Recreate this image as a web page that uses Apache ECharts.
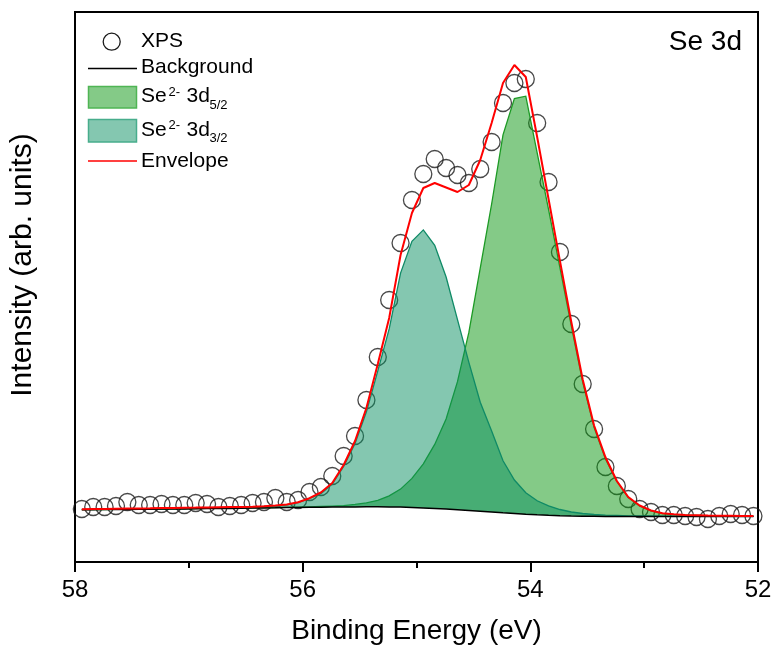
<!DOCTYPE html>
<html>
<head>
<meta charset="utf-8">
<script src="https://cdn.jsdelivr.net/npm/echarts@6/dist/echarts.min.js"></script>
<style>
html,body{margin:0;padding:0;background:#fff;}
#chart{width:775px;height:650px;}
</style>
</head>
<body>
<div id="chart"></div>
<script>
// Binding energy grid (eV)
var energy = [57.94,57.84,57.74,57.64,57.54,57.44,57.34,57.24,57.14,57.04,
  56.94,56.84,56.74,56.64,56.54,56.44,56.34,56.24,56.14,56.04,
  55.94,55.84,55.74,55.64,55.54,55.44,55.34,55.24,55.14,55.04,
  54.94,54.84,54.74,54.64,54.54,54.44,54.34,54.24,54.14,54.04,
  53.94,53.84,53.74,53.64,53.54,53.44,53.34,53.24,53.14,53.04,
  52.94,52.84,52.74,52.64,52.54,52.44,52.34,52.24,52.14,52.04];
// Measured XPS intensity (arb. units)
var xps = [530,550,550,560,600,570,570,580,570,570,
  590,580,550,560,570,590,600,640,600,620,
  700,750,860,1060,1260,1620,2050,2620,3190,3620,
  3880,4030,3940,3870,3790,3930,4200,4590,4790,4830,
  4390,3800,3100,2380,1780,1330,950,760,630,530,
  500,470,470,460,450,430,460,480,470,460];
// Shirley-type background
var background = [522,523,524,525,526,527,528,529,530,531,
  532,534,535,536,538,539,541,542,544,545,
  547,548,549,550,551,552,552,551,549,546,
  541,536,530,523,516,508,500,492,485,478,
  472,467,463,460,458,457,456,456,455,455,
  455,455,455,455,455,455,455,455,455,455];
// Se2- 3d5/2 component (height above background)
var se52 = [1,1,1,1,1,1,1,1,1,1,
  1,2,2,2,2,2,3,3,3,4,
  5,7,10,14,25,40,65,110,180,290,
  440,640,900,1280,1780,2430,3080,3780,4150,4180,
  3620,3060,2480,1900,1340,890,575,350,190,105,
  56,30,20,14,10,8,6,5,4,4];
// Se2- 3d3/2 component (height above background)
var se32 = [3,3,3,4,4,4,5,5,6,6,
  7,8,9,10,11,12,14,18,28,50,
  88,135,230,405,635,950,1360,1780,2340,2660,
  2780,2630,2320,1900,1480,1090,810,520,335,215,
  140,95,62,40,27,18,12,9,7,6,
  5,4,4,3,3,3,3,3,2,2];
// Fitted envelope
var envelope = [527,529,530,532,534,536,537,539,541,543,
  544,546,548,550,551,553,558,564,575,598,
  638,695,790,970,1210,1540,1980,2440,3070,3490,
  3740,3790,3745,3700,3770,4020,4390,4790,4970,4850,
  4250,3630,3010,2400,1825,1365,1047,810,650,565,
  515,487,477,471,468,465,463,462,461,460];
var xTicks = [52, 54, 56, 58];

function pairs(ys){ return energy.map(function(x,i){ return [x, ys[i]]; }); }

var FONT = "'Liberation Sans', Arial, sans-serif";
var GREEN_FILL = 'rgba(9,149,15,0.5)';
var GREEN_LINE = '#1c9a24';
var TEAL_FILL = 'rgba(9,143,97,0.5)';
var TEAL_LINE = '#0f8a66';

// Peak component drawn as a filled band between the background and background + component
function peakSeries(name, comp, fill, stroke, z){
  return {
    name: name, type: 'custom', z: z, clip: true,
    data: energy.map(function(x,i){ return [x, background[i], comp[i]]; }),
    encode: {x: 0, y: 1},
    renderItem: function(params, api){
      if (params.dataIndex !== 0) return null;
      var top = [], bottom = [];
      for (var i = 0; i < energy.length; i++){
        top.push(api.coord([energy[i], background[i] + comp[i]]));
        bottom.push(api.coord([energy[i], background[i]]));
      }
      var poly = top.concat(bottom.slice().reverse());
      return {type: 'group', children: [
        {type: 'polygon', shape: {points: poly}, style: {fill: fill, stroke: null}},
        {type: 'polyline', shape: {points: top}, style: {fill: null, stroke: stroke, lineWidth: 1.3}}
      ]};
    }
  };
}

var chart = echarts.init(document.getElementById('chart'), null, {renderer:'canvas'});
var option = {
  animation: false,
  backgroundColor: '#fff',
  textStyle: {fontFamily: FONT},
  grid: {left: 75, right: 17, top: 12, bottom: 88, show: true, borderColor: '#000', borderWidth: 2, backgroundColor: 'transparent'},
  xAxis: {
    type: 'value', min: xTicks[0], max: xTicks[xTicks.length-1], interval: 2, inverse: true,
    axisLine: {show: true, onZero: false, lineStyle: {color: '#000', width: 2}},
    axisTick: {show: true, inside: false, length: 10, lineStyle: {color: '#000', width: 2}},
    minorTick: {show: true, splitNumber: 2, length: 6, lineStyle: {color: '#000', width: 2}},
    axisLabel: {fontSize: 24, color: '#000', margin: 16, fontFamily: FONT},
    splitLine: {show: false},
    name: 'Binding Energy (eV)', nameLocation: 'middle', nameGap: 55,
    nameTextStyle: {fontSize: 28, color: '#000', fontFamily: FONT}
  },
  yAxis: {
    type: 'value', min: 0, max: 5500,
    axisLine: {show: true, onZero: false, lineStyle: {color: '#000', width: 2}},
    axisTick: {show: false}, axisLabel: {show: false}, splitLine: {show: false}
  },
  series: [
    {name: 'XPS', type: 'scatter', data: pairs(xps), symbol: 'circle', symbolSize: 17,
     itemStyle: {color: 'rgba(0,0,0,0)', borderColor: '#1a1a1a', borderWidth: 1.3}, z: 1},
    peakSeries('Se2- 3d5/2', se52, GREEN_FILL, GREEN_LINE, 2),
    peakSeries('Se2- 3d3/2', se32, TEAL_FILL, TEAL_LINE, 3),
    {name: 'Background', type: 'line', data: pairs(background), symbol: 'none',
     lineStyle: {color: '#000', width: 1.5}, z: 4},
    {name: 'Envelope', type: 'line', data: pairs(envelope), symbol: 'none',
     lineStyle: {color: '#ff0000', width: 2}, z: 5}
  ],
  graphic: [
    {type: 'text', x: 23, y: 265, rotation: Math.PI/2,
     style: {text: 'Intensity (arb. units)', fontSize: 30, fontFamily: FONT, fill: '#000', align: 'center', verticalAlign: 'middle'}},
    {type: 'circle', shape: {cx: 111.7, cy: 41.7, r: 8.5}, style: {fill: 'none', stroke: '#1a1a1a', lineWidth: 1.3}},
    {type: 'text', x: 141, y: 41, style: {text: 'XPS', fontSize: 21, fontFamily: FONT, fill: '#000', verticalAlign: 'middle'}},
    {type: 'line', shape: {x1: 88, y1: 68.5, x2: 137, y2: 68.5}, style: {stroke: '#000', lineWidth: 1.5}},
    {type: 'text', x: 141, y: 67.5, style: {text: 'Background', fontSize: 21, fontFamily: FONT, fill: '#000', verticalAlign: 'middle'}},
    {type: 'rect', shape: {x: 88.5, y: 86.5, width: 48, height: 21.5}, style: {fill: GREEN_FILL, stroke: '#4fb554', lineWidth: 1.5}},
    {type: 'text', x: 141, y: 96.7, style: {text: 'Se', fontSize: 21, fontFamily: FONT, fill: '#000', verticalAlign: 'middle'}},
    {type: 'text', x: 168.5, y: 92, style: {text: '2-', fontSize: 13, fontFamily: FONT, fill: '#000', verticalAlign: 'middle'}},
    {type: 'text', x: 186.5, y: 96.7, style: {text: '3d', fontSize: 21, fontFamily: FONT, fill: '#000', verticalAlign: 'middle'}},
    {type: 'text', x: 209.5, y: 105.5, style: {text: '5/2', fontSize: 13, fontFamily: FONT, fill: '#000', verticalAlign: 'middle'}},
    {type: 'rect', shape: {x: 88.5, y: 119.5, width: 48, height: 22.5}, style: {fill: TEAL_FILL, stroke: '#47ad8c', lineWidth: 1.5}},
    {type: 'text', x: 141, y: 130, style: {text: 'Se', fontSize: 21, fontFamily: FONT, fill: '#000', verticalAlign: 'middle'}},
    {type: 'text', x: 168.5, y: 125.3, style: {text: '2-', fontSize: 13, fontFamily: FONT, fill: '#000', verticalAlign: 'middle'}},
    {type: 'text', x: 186.5, y: 130, style: {text: '3d', fontSize: 21, fontFamily: FONT, fill: '#000', verticalAlign: 'middle'}},
    {type: 'text', x: 209.5, y: 138.8, style: {text: '3/2', fontSize: 13, fontFamily: FONT, fill: '#000', verticalAlign: 'middle'}},
    {type: 'line', shape: {x1: 88, y1: 161, x2: 137, y2: 161}, style: {stroke: '#ff0000', lineWidth: 1.5}},
    {type: 'text', x: 141, y: 161, style: {text: 'Envelope', fontSize: 21, fontFamily: FONT, fill: '#000', verticalAlign: 'middle'}},
    {type: 'text', x: 742, y: 42.7, style: {text: 'Se 3d', fontSize: 28, fontFamily: FONT, fill: '#000', align: 'right', verticalAlign: 'middle'}}
  ]
};
chart.setOption(option);
</script>
</body>
</html>
